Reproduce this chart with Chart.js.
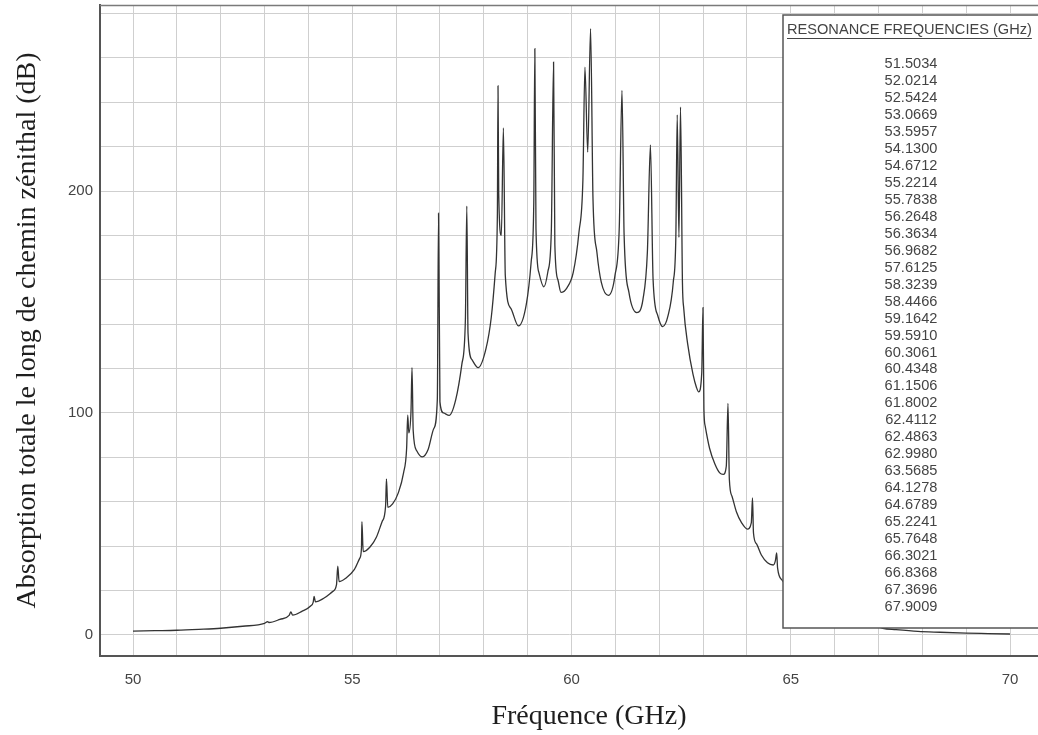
<!DOCTYPE html>
<html>
<head>
<meta charset="utf-8">
<script src="https://cdn.jsdelivr.net/npm/chart.js@4/dist/chart.umd.min.js"></script>
<style>
  html, body { margin: 0; padding: 0; background: #fff; }
  #wrap { width: 1038px; height: 735px; position: relative; }
</style>
</head>
<body>
<div id="wrap"><canvas id="absChart"></canvas></div>
<script>
// frequency (GHz) and total zenith-path absorption (dB)
const freqGHz = [
  50.00, 50.50, 51.00, 51.50, 52.00, 52.50, 53.00, 53.07, 53.10, 53.35,
  53.56, 53.60, 53.64, 53.85, 54.05, 54.11, 54.13, 54.16, 54.35, 54.55,
  54.64, 54.67, 54.70, 54.85, 55.05, 55.17, 55.21, 55.22, 55.25, 55.40,
  55.55, 55.68, 55.76, 55.78, 55.81, 55.92, 56.05, 56.17, 56.24, 56.265,
  56.29, 56.34, 56.363, 56.39, 56.47, 56.60, 56.73, 56.86, 56.94, 56.968,
  57.00, 57.08, 57.21, 57.36, 57.50, 57.58, 57.6125, 57.64, 57.73, 57.87,
  58.05, 58.17, 58.26, 58.31, 58.324, 58.34, 58.40, 58.447, 58.49, 58.62,
  58.79, 58.97, 59.08, 59.14, 59.164, 59.19, 59.26, 59.37, 59.46, 59.54,
  59.591, 59.62, 59.69, 59.76, 59.90, 60.04, 60.17, 60.26, 60.306, 60.37,
  60.435, 60.49, 60.58, 60.68, 60.84, 60.99, 61.09, 61.151, 61.20, 61.31,
  61.49, 61.63, 61.73, 61.80, 61.86, 61.97, 62.08, 62.20, 62.32, 62.38,
  62.411, 62.45, 62.486, 62.53, 62.56, 62.65, 62.77, 62.85, 62.90, 62.97,
  62.998, 63.02, 63.05, 63.15, 63.27, 63.38, 63.46, 63.53, 63.5685, 63.60,
  63.66, 63.76, 63.88, 64.01, 64.10, 64.128, 64.15, 64.22, 64.33, 64.47,
  64.60, 64.65, 64.679, 64.70, 64.81, 65.00, 65.20, 65.224, 65.25, 65.50,
  65.74, 65.765, 65.79, 66.05, 66.30, 66.60, 66.837, 67.10, 67.40, 67.90,
  68.40, 69.00, 69.50, 70.00
];
const absorptionDb = [
  1.7, 1.9, 2.1, 2.5, 3.0, 3.9, 5.2, 6.0, 5.6, 7.0,
  8.8, 10.4, 8.9, 10.6, 13.0, 14.8, 17.3, 14.9, 16.5, 19.5,
  22.5, 31.0, 24.0, 25.5, 29.5, 34.5, 39.0, 51.0, 37.5, 39.5,
  44.0, 51.0, 58.0, 70.3, 57.5, 59.0, 64.0, 73.0, 84.0, 99.0,
  91.0, 101.0, 120.4, 92.0, 83.0, 80.2, 83.5, 93.0, 106.0, 190.0,
  105.0, 100.0, 98.9, 106.0, 122.0, 142.0, 193.2, 136.0, 124.0, 120.4,
  129.0, 143.0, 163.0, 190.0, 247.4, 199.0, 180.0, 228.4, 162.0, 147.0,
  139.2, 149.0, 168.0, 195.0, 264.1, 183.0, 163.0, 156.8, 163.5, 182.0,
  258.1, 176.0, 160.0, 154.3, 156.5, 163.3, 181.4, 205.0, 255.8, 217.5,
  273.1, 196.4, 172.3, 158.8, 153.0, 161.8, 184.0, 245.3, 180.0, 154.3,
  145.2, 151.2, 172.3, 220.8, 160.3, 143.7, 138.9, 143.7, 158.8, 180.0,
  234.3, 179.1, 237.8, 158.8, 147.0, 131.0, 117.5, 111.5, 109.5, 118.0,
  147.5, 101.6, 94.0, 84.0, 77.0, 73.0, 72.3, 76.0, 104.3, 70.0,
  62.5, 55.5, 50.5, 47.7, 50.5, 61.7, 45.9, 41.0, 36.0, 32.5,
  31.5, 33.5, 36.9, 30.1, 24.5, 20.0, 18.0, 24.0, 16.5, 12.5,
  11.0, 14.0, 10.0, 7.5, 7.0, 5.0, 5.0, 3.0, 2.4, 1.6,
  1.2, 0.8, 0.6, 0.4
];
const resonanceFreqs = [
  "51.5034", "52.0214", "52.5424", "53.0669", "53.5957", "54.1300", "54.6712",
  "55.2214", "55.7838", "56.2648", "56.3634", "56.9682", "57.6125", "58.3239",
  "58.4466", "59.1642", "59.5910", "60.3061", "60.4348", "61.1506", "61.8002",
  "62.4112", "62.4863", "62.9980", "63.5685", "64.1278", "64.6789", "65.2241",
  "65.7648", "66.3021", "66.8368", "67.3696", "67.9009"
];
const xTickLabels = [50, 55, 60, 65, 70];
const yTickLabels = [0, 100, 200];
const legendTitle = "RESONANCE FREQUENCIES (GHz)";
const xTitle = "Fréquence (GHz)";
const yTitle = "Absorption totale le long de chemin zénithal (dB)";

const points = freqGHz.map((f, i) => ({ x: f, y: absorptionDb[i] }));

const sansFont = "'Liberation Sans', Arial, sans-serif";
const serifFont = "'Liberation Serif', 'Times New Roman', serif";

// frame top line, x title and the resonance list box
const overlayPlugin = {
  id: "overlay",
  afterDraw(chart) {
    const ctx = chart.ctx;
    const area = chart.chartArea;
    ctx.save();
    ctx.strokeStyle = "#7a7a7a";
    ctx.lineWidth = 1.5;
    ctx.beginPath();
    ctx.moveTo(area.left, area.top + 0.5);
    ctx.lineTo(area.right, area.top + 0.5);
    ctx.stroke();

    ctx.fillStyle = "#1e1e1e";
    ctx.font = "28px " + serifFont;
    ctx.textAlign = "center";
    ctx.textBaseline = "middle";
    ctx.fillText(xTitle, 589, 717);

    // box
    const bx = 783, by = 15, bw = 270, bh = 613;
    ctx.fillStyle = "#fff";
    ctx.fillRect(bx, by, bw, bh);
    ctx.strokeStyle = "#555";
    ctx.lineWidth = 1.5;
    ctx.strokeRect(bx, by, bw, bh);

    ctx.fillStyle = "#444";
    ctx.font = "14.6px " + sansFont;
    ctx.textAlign = "left";
    ctx.textBaseline = "middle";
    ctx.fillText(legendTitle, 787, 30);
    const tw = ctx.measureText(legendTitle).width;
    ctx.strokeStyle = "#444";
    ctx.lineWidth = 1;
    ctx.beginPath();
    ctx.moveTo(787, 38.5);
    ctx.lineTo(787 + tw, 38.5);
    ctx.stroke();

    ctx.textAlign = "center";
    resonanceFreqs.forEach((r, i) => {
      ctx.fillText(r, 911, 64 + i * 16.97);
    });
    ctx.restore();
  }
};

const data = {
  datasets: [
    {
      label: "absorption",
      data: points,
      borderColor: "#333",
      borderWidth: 1.3,
      pointRadius: 0,
      fill: false,
      cubicInterpolationMode: "monotone",
    },
  ],
};

const options = {
  animation: false,
  responsive: true,
  maintainAspectRatio: false,
  layout: { padding: { top: 5, right: 0, left: 0, bottom: 0 } },
  plugins: {
    legend: { display: false },
    tooltip: { enabled: false },
  },
  scales: {
    x: {
      type: "linear",
      min: 49.2474,
      max: 70.6385,
      afterFit: (scale) => {
        scale.height = 79;
        scale.paddingLeft = 0;
        scale.paddingRight = 0;
      },
      afterBuildTicks: (scale) => {
        const t = [];
        for (let v = 50; v <= 70; v++) t.push({ value: v });
        scale.ticks = t;
      },
      ticks: {
        autoSkip: false,
        maxRotation: 0,
        padding: 15,
        color: "#444",
        font: { family: sansFont, size: 15 },
        callback: (v) => (xTickLabels.includes(v) ? String(v) : ""),
      },
      grid: { color: "#cfcfcf", lineWidth: 1, drawTicks: false },
      border: { display: true, color: "#555", width: 2 },
    },
    y: {
      type: "linear",
      min: -9.5,
      max: 283.8,
      afterFit: (scale) => {
        scale.width = 100;
        scale.paddingTop = 0;
        scale.paddingBottom = 0;
      },
      afterBuildTicks: (scale) => {
        const t = [];
        for (let v = 0; v <= 280; v += 20) t.push({ value: v });
        scale.ticks = t;
      },
      ticks: {
        autoSkip: false,
        padding: 7,
        color: "#444",
        font: { family: sansFont, size: 15 },
        callback: (v) => (yTickLabels.includes(v) ? String(v) : ""),
      },
      grid: { color: "#cfcfcf", lineWidth: 1, drawTicks: false },
      border: { display: true, color: "#555", width: 2 },
      title: {
        display: true,
        text: yTitle,
        color: "#1e1e1e",
        font: { family: serifFont, size: 28, weight: "normal" },
        padding: { top: 11, bottom: 0 },
      },
    },
  },
};

const config = {
  type: "line",
  data: data,
  options: options,
  plugins: [overlayPlugin],
};

const chart = new Chart(document.getElementById("absChart"), config);
</script>
</body>
</html>
